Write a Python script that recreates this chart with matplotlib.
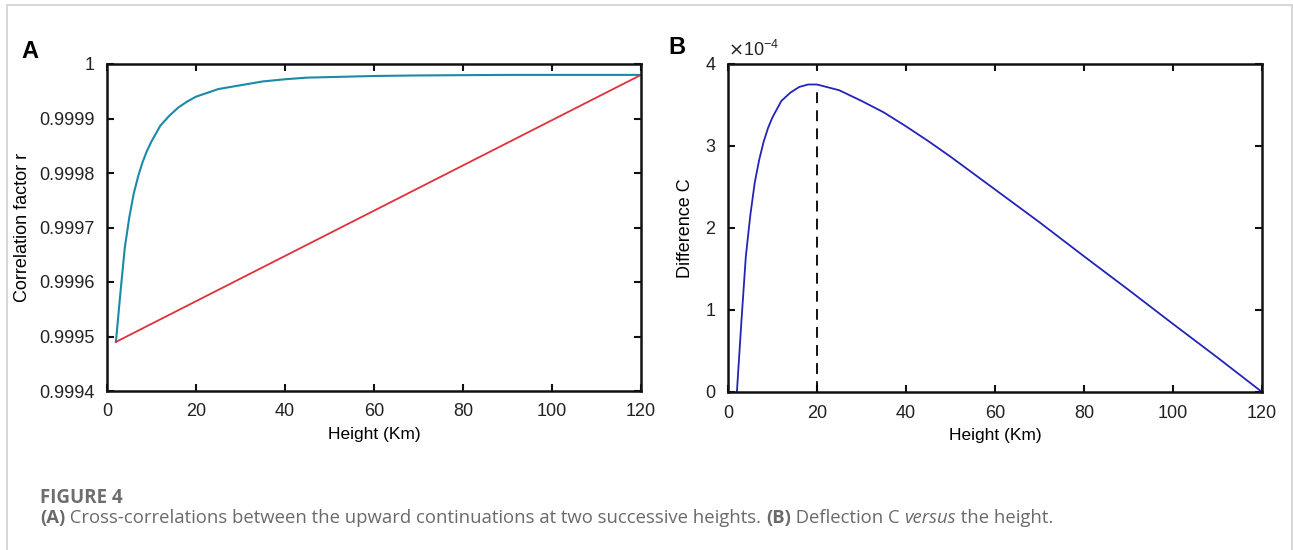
import matplotlib
matplotlib.use("Agg")
import matplotlib.pyplot as plt
from matplotlib.patches import Rectangle

# data
heights = [2, 3, 4, 5, 6, 7, 8, 9, 10, 12, 14, 16, 18, 20, 25, 30, 35, 40, 45, 50,
           60, 70, 80, 90, 100, 110, 120]
r_upward = [0.999490, 0.999579, 0.999663, 0.999718, 0.999762, 0.999794, 0.999820, 0.999841,
            0.999858, 0.999887, 0.999905, 0.999920, 0.999931, 0.999940, 0.999954, 0.999961,
            0.999968, 0.999972, 0.999975, 0.999976, 0.999978, 0.999979, 0.9999795, 0.999980,
            0.999980, 0.999980, 0.999980]
line_x = [2, 120]
line_r = [0.99949, 0.99998]
diff_c = [0, 0.85, 1.65, 2.15, 2.55, 2.83, 3.05, 3.22, 3.35, 3.55, 3.65, 3.72, 3.75, 3.75,
          3.68, 3.55, 3.41, 3.24, 3.06, 2.87, 2.47, 2.07, 1.655, 1.246, 0.83, 0.42, 0]  # x 1e-4
peak_h = 20
peak_c = 3.75

x_ticks = [0, 20, 40, 60, 80, 100, 120]
r_ticks = [0.9994, 0.9995, 0.9996, 0.9997, 0.9998, 0.9999, 1]
r_labels = ["0.9994", "0.9995", "0.9996", "0.9997", "0.9998", "0.9999", "1"]
c_ticks = [0, 1, 2, 3, 4]

plt.rcParams['font.family'] = ['Liberation Sans', 'DejaVu Sans']

W, H = 1293, 550
fig = plt.figure(figsize=(W / 100, H / 100), dpi=100)

# light frame around the whole figure
fig.patches.append(Rectangle((7 / W, -0.01), (1292 - 7) / W, 1 - 5 / H + 0.01,
                             transform=fig.transFigure, fill=False,
                             edgecolor="#d0d0d0", linewidth=1.2))


def style(ax):
    for s in ax.spines.values():
        s.set_linewidth(1.8)
        s.set_color("#111111")
    ax.tick_params(direction="in", top=True, right=True, length=5, width=1.5,
                   labelsize=13, pad=9, colors="#111111")
    ax.tick_params(axis="x", labelcolor="#222222")
    ax.tick_params(axis="y", labelcolor="#222222")


ax1 = fig.add_axes([107 / W, 1 - 391 / H, (641 - 107) / W, (391 - 64) / H])
ax1.plot(heights, r_upward, color="#1a8aa6", linewidth=1.5)
ax1.plot(line_x, line_r, color="#e0313a", linewidth=1.3)
ax1.set_xlim(0, 120)
ax1.set_ylim(0.9994, 1)
ax1.set_xticks(x_ticks)
ax1.set_yticks(r_ticks)
ax1.set_yticklabels(r_labels)
ax1.set_xlabel("Height (Km)", fontsize=12.5, labelpad=5)
ax1.set_ylabel("Correlation factor r", fontsize=13, labelpad=6)
style(ax1)

ax2 = fig.add_axes([728 / W, 1 - 392 / H, (1262 - 728) / W, (392 - 64) / H])
ax2.plot(heights, diff_c, color="#2323b8", linewidth=1.3)
ax2.plot([peak_h, peak_h], [0, peak_c], color="black", linestyle=(0, (6, 4)), linewidth=1.3)
ax2.set_xlim(0, 120)
ax2.set_ylim(0, 4)
ax2.set_xticks(x_ticks)
ax2.set_yticks(c_ticks)
ax2.set_xlabel("Height (Km)", fontsize=12.5, labelpad=5)
ax2.set_ylabel("Difference C", fontsize=13, labelpad=8)
style(ax2)
ax2.text(0.0, 1.012, r"$\times$10$^{\mathregular{-4}}$", transform=ax2.transAxes, fontsize=13,
         color="#222222", ha="left", va="bottom")

fig.text(30 / W, 1 - 52 / H, "A", fontsize=17, fontweight="bold", ha="center", va="center")
fig.text(677 / W, 1 - 48 / H, "B", fontsize=17, fontweight="bold", ha="center", va="center")

# caption
cap_font = ['Open Sans', 'DejaVu Sans']
fig.text(40 / W, 1 - 498 / H, "FIGURE 4", fontsize=13.5, fontweight="bold",
         color="#6e6e6e", family=cap_font, ha="left", va="center")

pieces = [("(A)", "bold", "normal"),
          (" Cross-correlations between the upward continuations at two successive heights. ", "normal", "normal"),
          ("(B)", "bold", "normal"),
          (" Deflection C ", "normal", "normal"),
          ("versus", "normal", "italic"),
          (" the height.", "normal", "normal")]
renderer = fig.canvas.get_renderer()
x = 40
for txt, wt, st in pieces:
    t = fig.text(x / W, 1 - 518 / H, txt, fontsize=13.3, fontweight=wt, fontstyle=st,
                 color="#6a6a6a", family=cap_font, ha="left", va="center")
    bb = t.get_window_extent(renderer=renderer)
    x += bb.width

fig.savefig("out.png", dpi=100)
